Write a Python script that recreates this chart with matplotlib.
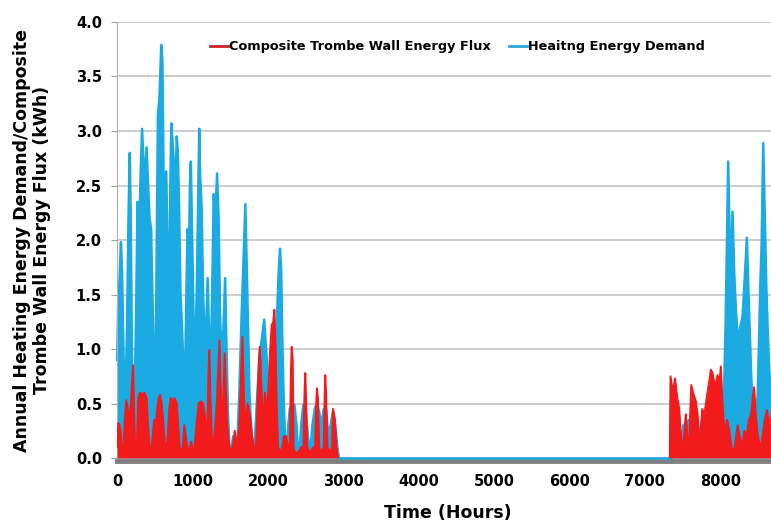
import matplotlib
matplotlib.use("Agg")
import matplotlib.pyplot as plt

plt.rcParams["font.family"] = ["DejaVu Sans"]
plt.rcParams["font.weight"] = "bold"

# Heating energy demand (kWh), January - April
demand_hours_jan_apr = [0, 15, 30, 50, 65, 80, 95, 110, 130, 150, 167, 180, 195, 210, 230,
                        250, 270, 290, 310, 330, 350, 370, 390, 410, 430, 450, 470, 490,
                        505, 520, 540, 560, 585, 600, 615, 630, 650, 670, 690, 705, 718,
                        735, 750, 770, 790, 805, 820, 840, 860, 880, 900, 920, 933, 950,
                        965, 977, 995, 1015, 1035, 1055, 1075, 1088, 1100, 1120, 1140,
                        1160, 1180, 1200, 1220, 1240, 1260, 1280, 1300, 1325, 1345, 1365,
                        1385, 1410, 1432, 1450, 1470, 1490, 1510, 1540, 1560, 1590, 1620,
                        1650, 1680, 1700, 1715, 1735, 1755, 1775, 1800, 1830, 1860, 1890,
                        1920, 1950, 1970, 1990, 2010, 2030, 2060, 2090, 2120, 2145, 2160,
                        2175, 2190, 2210, 2230, 2250, 2270, 2290, 2320, 2350, 2380, 2400,
                        2420, 2440, 2470, 2500, 2530, 2560, 2590, 2620, 2650, 2680, 2710,
                        2740, 2770, 2800, 2830, 2860, 2890, 2920, 2940]
demand_jan_apr = [0.9, 1.45, 1.62, 1.98, 1.7, 1.1, 0.6, 0.5, 1.2, 2.2, 2.8, 2.2, 1.0, 0.45, 0.5,
                  1.3, 2.35, 1.9, 2.6, 3.02, 2.7, 2.6, 2.85, 2.5, 2.2, 2.1, 1.4, 0.8,
                  0.6, 1.6, 3.15, 3.3, 3.79, 3.64, 2.6, 1.6, 2.63, 1.9, 1.2, 2.5, 3.07,
                  2.9, 2.72, 2.4, 2.95, 2.8, 2.33, 1.5, 1.2, 0.8, 0.7, 1.6, 2.1, 1.8,
                  2.5, 2.72, 2.0, 1.2, 1.0, 1.5, 2.4, 3.02, 2.6, 2.3, 1.5,
                  1.1, 1.2, 1.65, 1.1, 0.9, 1.5, 2.42, 2.2, 2.61, 2.2, 1.3,
                  0.9, 1.2, 1.65, 1.0, 0.4, 0.1, 0.05, 0.2, 0.1, 0.05, 0.6,
                  1.3, 1.9, 2.33, 1.85, 1.2, 0.6, 0.3, 0.05, 0.2, 0.6, 0.95,
                  1.1, 1.27, 1.05, 0.85, 0.5, 0.2, 0.6, 0.9, 1.3, 1.75, 1.92,
                  1.73, 1.1, 0.5, 0.15, 0.05, 0.3, 0.45, 0.49, 0.49, 0.3, 0.05,
                  0.05, 0.3, 0.49, 0.45, 0.2, 0.05, 0.3, 0.45, 0.5, 0.42, 0.3,
                  0.45, 0.45, 0.2, 0.3, 0.42, 0.3, 0.1, 0.0]

# Heating demand is zero through the summer
demand_hours_summer = [2940, 7340]
demand_summer = [0.0, 0.0]

# Heating energy demand (kWh), November - December
demand_hours_nov_dec = [7340, 7360, 7390, 7420, 7450, 7480, 7510, 7540, 7580, 7620, 7660,
                        7700, 7740, 7780, 7820, 7860, 7900, 7940, 7980, 8020, 8050, 8070,
                        8088, 8105, 8125, 8145, 8163, 8185, 8207, 8238, 8265, 8296, 8327,
                        8353, 8375, 8406, 8430, 8460, 8495, 8515, 8530, 8550, 8570, 8592,
                        8610, 8628, 8650, 8672, 8700, 8760]
demand_nov_dec = [0.0, 0.3, 0.2, 0.29, 0.15, 0.05, 0.3, 0.2, 0.35, 0.3, 0.2,
                  0.1, 0.3, 0.4, 0.3, 0.35, 0.3, 0.4, 0.45, 0.5, 0.6, 1.2,
                  1.95, 2.72, 2.0, 1.8, 2.26, 1.7, 1.36, 1.06, 1.2, 1.3, 1.68,
                  2.02, 1.5, 0.85, 0.4, 0.5, 0.55, 1.1, 1.55, 2.0, 2.89, 2.18,
                  1.6, 1.2, 0.8, 0.6, 0.7, 0.65]

# Composite Trombe wall energy flux (kWh), January - April
flux_hours_jan_apr = [0, 15, 30, 45, 60, 80, 100, 120, 140, 160, 190, 210, 225, 240, 260,
                      280, 300, 330, 360, 390, 410, 430, 450, 470, 490, 510, 530, 550,
                      570, 590, 610, 630, 650, 670, 690, 710, 730, 760, 790, 810, 830,
                      850, 870, 890, 910, 930, 950, 980, 1000, 1020, 1050, 1080, 1110,
                      1140, 1170, 1195, 1210, 1222, 1235, 1255, 1275, 1300, 1320, 1340,
                      1356, 1370, 1395, 1410, 1425, 1440, 1460, 1480, 1500, 1530, 1560,
                      1590, 1620, 1645, 1660, 1680, 1700, 1730, 1760, 1790, 1815, 1840,
                      1860, 1880, 1892, 1910, 1935, 1960, 1990, 2010, 2030, 2050, 2070,
                      2085, 2100, 2115, 2135, 2160, 2190, 2210, 2240, 2270, 2290, 2305,
                      2315, 2328, 2340, 2360, 2400, 2440, 2470, 2485, 2495, 2505, 2520,
                      2560, 2600, 2625, 2640, 2650, 2662, 2680, 2710, 2740, 2752, 2760,
                      2770, 2790, 2830, 2850, 2862, 2875, 2890, 2910, 2930]
flux_jan_apr = [0.1, 0.32, 0.3, 0.25, 0.1, 0.05, 0.35, 0.53, 0.45, 0.3, 0.6, 0.85, 0.4, 0.05, 0.1,
                0.55, 0.6, 0.58, 0.6, 0.55, 0.3, 0.1, 0.05, 0.2, 0.35, 0.3, 0.45, 0.55,
                0.58, 0.5, 0.35, 0.15, 0.05, 0.2, 0.45, 0.55, 0.52, 0.55, 0.5, 0.3, 0.1,
                0.05, 0.1, 0.3, 0.2, 0.1, 0.05, 0.15, 0.1, 0.05, 0.3, 0.5, 0.52,
                0.5, 0.35, 0.2, 0.75, 0.99, 0.6, 0.2, 0.1, 0.3, 0.5, 0.8,
                1.08, 0.7, 0.3, 0.6, 0.96, 0.7, 0.3, 0.15, 0.05, 0.1, 0.25,
                0.1, 0.3, 0.8, 1.11, 0.6, 0.3, 0.5, 0.4, 0.2, 0.1, 0.05,
                0.5, 0.9, 1.02, 0.7, 0.3, 0.6, 0.4, 0.7, 1.0, 1.22, 1.25,
                1.36, 1.05, 0.5, 0.1, 0.05, 0.1, 0.2, 0.2, 0.1, 0.1, 0.8,
                1.02, 0.9, 0.1, 0.05, 0.05, 0.1, 0.1, 0.6, 0.78, 0.55, 0.1,
                0.05, 0.1, 0.1, 0.5, 0.64, 0.55, 0.1, 0.05, 0.1, 0.55, 0.76,
                0.6, 0.1, 0.05, 0.1, 0.45, 0.41, 0.35, 0.1, 0.0]

# Composite Trombe wall energy flux (kWh), November - December
flux_hours_nov_dec = [7330, 7340, 7370, 7400, 7430, 7454, 7480, 7508, 7530, 7543, 7565,
                      7587, 7600, 7615, 7640, 7676, 7700, 7720, 7742, 7760, 7790, 7809,
                      7835, 7853, 7875, 7898, 7930, 7964, 7990, 8008, 8030, 8060, 8090,
                      8120, 8150, 8180, 8200, 8230, 8260, 8290, 8320, 8350, 8380, 8410,
                      8430, 8450, 8470, 8500, 8530, 8550, 8590, 8620, 8650, 8680, 8720,
                      8760]
flux_nov_dec = [0.0, 0.75, 0.6, 0.73, 0.55, 0.46, 0.2, 0.05, 0.3, 0.4, 0.2,
                0.05, 0.4, 0.67, 0.6, 0.52, 0.4, 0.2, 0.25, 0.45, 0.4, 0.5,
                0.62, 0.7, 0.81, 0.78, 0.65, 0.76, 0.7, 0.84, 0.5, 0.2, 0.35,
                0.25, 0.1, 0.05, 0.15, 0.3, 0.2, 0.1, 0.25, 0.2, 0.35, 0.4,
                0.55, 0.65, 0.4, 0.2, 0.1, 0.15, 0.35, 0.44, 0.3, 0.4, 0.6,
                0.65]

x_ticks = [0, 1000, 2000, 3000, 4000, 5000, 6000, 7000, 8000]
y_ticks = [0.0, 0.5, 1.0, 1.5, 2.0, 2.5, 3.0, 3.5, 4.0]

red = "#F21A1A"
blue = "#1BAAE2"

fig = plt.figure(figsize=(7.71, 5.25), dpi=100)
ax = fig.add_axes([0.152, 0.1276, 0.8565, 0.8305])

# heating demand (drawn first, underneath)
for hrs, vals in [(demand_hours_jan_apr, demand_jan_apr),
                  (demand_hours_summer, demand_summer),
                  (demand_hours_nov_dec, demand_nov_dec)]:
    ax.fill_between(hrs, 0, vals, color=blue, linewidth=0, zorder=2)
    ax.plot(hrs, vals, color=blue, linewidth=1.8, zorder=2, clip_on=False)

# trombe wall flux on top
for hrs, vals in [(flux_hours_jan_apr, flux_jan_apr),
                  (flux_hours_nov_dec, flux_nov_dec)]:
    ax.fill_between(hrs, 0, vals, color=red, linewidth=0, zorder=3)
    ax.plot(hrs, vals, color=red, linewidth=1.4, zorder=3)

# legend handles
ax.plot([], [], color="#D0202A", linewidth=2, label="Composite Trombe Wall Energy Flux")
ax.plot([], [], color="#2AA6D6", linewidth=2, label="Heaitng Energy Demand")

ax.set_xlim(0, 8760)
ax.set_ylim(0, 4.0)
ax.set_xticks(x_ticks)
ax.set_yticks(y_ticks)
ax.set_yticklabels([f"{t:.1f}" for t in y_ticks])
ax.tick_params(axis="both", labelsize=10.5, colors="black")
ax.tick_params(axis="y", length=4, color="#A0A0A0", pad=7)
ax.tick_params(axis="x", length=0, pad=9)
for lbl in ax.get_xticklabels() + ax.get_yticklabels():
    lbl.set_fontweight("bold")

ax.grid(axis="y", color="#C0C0C0", linewidth=1.1, zorder=0)
ax.set_axisbelow(True)
ax.spines["top"].set_visible(False)
ax.spines["right"].set_visible(False)
ax.spines["left"].set_color("#B0B0B0")
ax.spines["bottom"].set_color("#7F7F7F")
ax.spines["bottom"].set_linewidth(3.5)
ax.spines["bottom"].set_position(("outward", 2.5))
ax.spines["bottom"].set_zorder(1)

ax.set_xlabel("Time (Hours)", fontsize=12.5, fontweight="bold", labelpad=11)
ax.set_ylabel("Annual Heating Energy Demand/Composite\nTrombe Wall Energy Flux (kWh)",
              fontsize=12.5, fontweight="bold", labelpad=18, linespacing=1.15)

leg = ax.legend(loc="center", bbox_to_anchor=(0.515, 0.943), ncol=2, frameon=False,
                handlelength=1.4, handletextpad=0.1, columnspacing=1.4,
                prop={"weight": "bold", "size": 9.3})

fig.savefig("out.png", dpi=100)
